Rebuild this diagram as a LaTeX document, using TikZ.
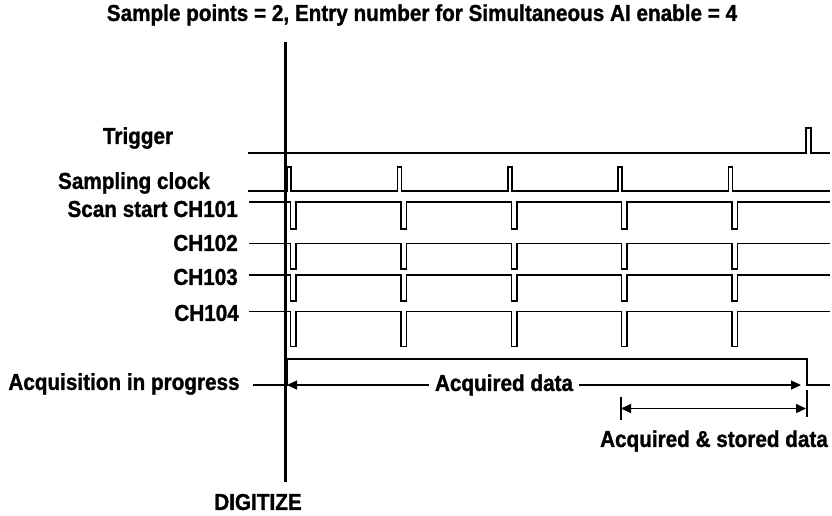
\documentclass[tikz,border=0pt]{standalone}
\usepackage{fontspec}
\setmainfont{Liberation Sans}[FakeStretch=0.9, BoldFeatures={FakeBold=1.2}]
\usetikzlibrary{arrows.meta,positioning}

\begin{document}
\begin{tikzpicture}[
  x=1pt, y=-1pt,
  lbl/.style={font=\bfseries\fontsize{23}{26}\selectfont, inner sep=0pt},
  sig/.style={line width=1.3pt},
  arr/.style={-{Triangle[length=10pt, width=9pt]}, line width=1.3pt}
]
  \useasboundingbox (0,0) rectangle (832,515);

  % title and digitize marker
  \node[lbl] (title) at (422,15) {Sample points = 2, Entry number for Simultaneous AI enable = 4};
  \coordinate (digtop) at (285.5,42);
  \node[lbl] (digitize) at (258,502) {DIGITIZE};
  \draw[line width=3pt] (digtop) -- (285.5,482);

  % signal names
  \node[lbl] (trig) at (138,138) {Trigger};
  \node[lbl] (clk) at (134,183) {Sampling clock};
  \node[lbl, anchor=east] (ch1) at (238,209) {Scan start CH101};
  \node[lbl, anchor=east] (ch2) at (238,243) {CH102};
  \node[lbl, anchor=east] (ch3) at (238,277) {CH103};
  \node[lbl, anchor=east] (ch4) at (239,313) {CH104};
  \node[lbl] (acq) at (124,384) {Acquisition in progress};

  % trigger
  \draw[sig] (248,153) -- (806,153) -- (806,128) -- (811,128) -- (811,153) -- (830,153);

  % sampling clock
  \draw[sig] (248,191)
    \foreach \x in {287,397.5,508,618,728.5} { -- (\x,191) -- (\x,167) -- (\x+4,167) -- (\x+4,191) }
    -- (830,191);

  % channels
  \foreach \y/\d in {202/27, 243.5/25.5, 275/26, 311.5/35} {
    \draw[sig] (249,\y)
      \foreach \x in {287,397.5,508,618,728.5} { -- (\x+3.5,\y) -- (\x+3.5,\y+\d) -- (\x+9,\y+\d) -- (\x+9,\y) }
      -- (830,\y);
  }

  % acquisition in progress
  \coordinate (acqL) at (287,385);
  \coordinate (acqR) at (801,385);
  \draw[sig] (253,385) -- (287,385) -- (287,359) -- (807,359) -- (807,385) -- (830,385);
  \node[lbl, fill=white, inner xsep=6pt] (acqd) at (504,385) {Acquired data};
  \draw[arr] (acqd.west) -- (acqL);
  \draw[arr] (acqd.east) -- (acqR);

  % stored data
  \coordinate (stL) at (621,408.5);
  \coordinate (stR) at (806,408.5);
  \draw[sig] (621,397) -- (621,420);
  \draw[sig] (807,390) -- (807,417);
  \draw[arr, {Triangle[length=10pt, width=9pt]}-{Triangle[length=10pt, width=9pt]}] (stL) -- (stR);
  \node[lbl] (stored) at (714,441) {Acquired \& stored data};
\end{tikzpicture}
\end{document}
